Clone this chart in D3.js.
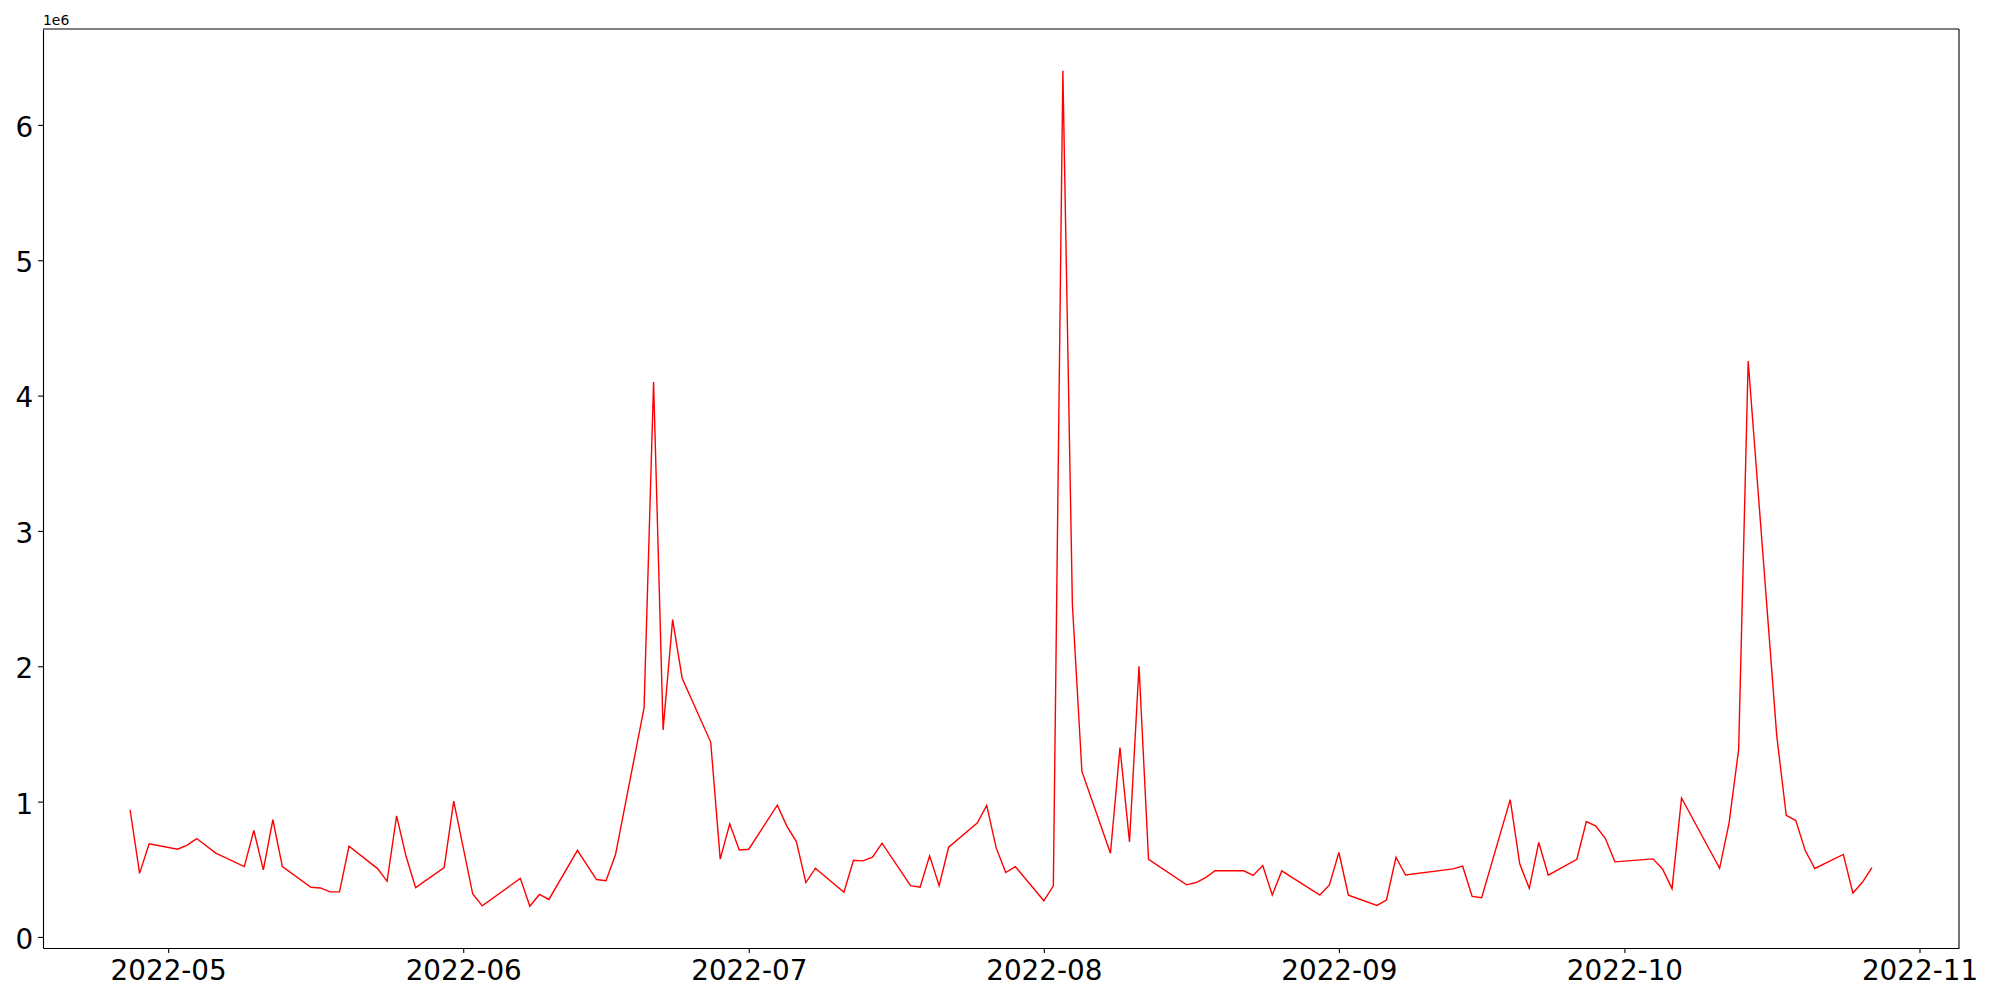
<!DOCTYPE html>
<html>
<head>
<meta charset="utf-8">
<script src="https://cdn.jsdelivr.net/npm/d3@7"></script>
<style>
  body { margin: 0; background: #fff; }
  svg { display: block; font-family: "DejaVu Sans", sans-serif; }
  .domain { stroke: #000; stroke-width: 1.1; }
  .tick line { stroke: #000; stroke-width: 1.1; }
  .tick text { fill: #000; font-size: 27.8px; font-family: "DejaVu Sans", sans-serif; }
</style>
</head>
<body>
<svg id="chart" width="2000" height="1000"></svg>
<script>

// trading days
var DATES = [
  '2022-04-27', '2022-04-28', '2022-04-29',
  '2022-05-02', '2022-05-03', '2022-05-04', '2022-05-06',
  '2022-05-09', '2022-05-10', '2022-05-11', '2022-05-12', '2022-05-13',
  '2022-05-16', '2022-05-17', '2022-05-18', '2022-05-19', '2022-05-20',
  '2022-05-23', '2022-05-24', '2022-05-25', '2022-05-26', '2022-05-27',
  '2022-05-30', '2022-05-31', '2022-06-02', '2022-06-03',
  '2022-06-07', '2022-06-08', '2022-06-09', '2022-06-10',
  '2022-06-13', '2022-06-15', '2022-06-16', '2022-06-17',
  '2022-06-20', '2022-06-21', '2022-06-22', '2022-06-23', '2022-06-24',
  '2022-06-27', '2022-06-28', '2022-06-29', '2022-06-30', '2022-07-01',
  '2022-07-04', '2022-07-05', '2022-07-06', '2022-07-07', '2022-07-08',
  '2022-07-11', '2022-07-12', '2022-07-13', '2022-07-14', '2022-07-15',
  '2022-07-18', '2022-07-19', '2022-07-20', '2022-07-21', '2022-07-22',
  '2022-07-25', '2022-07-26', '2022-07-27', '2022-07-28', '2022-07-29',
  '2022-08-01', '2022-08-02', '2022-08-03', '2022-08-04', '2022-08-05',
  '2022-08-08', '2022-08-09', '2022-08-10', '2022-08-11', '2022-08-12',
  '2022-08-16', '2022-08-17', '2022-08-18', '2022-08-19',
  '2022-08-22', '2022-08-23', '2022-08-24', '2022-08-25', '2022-08-26',
  '2022-08-30', '2022-08-31', '2022-09-01', '2022-09-02',
  '2022-09-05', '2022-09-06', '2022-09-07', '2022-09-08',
  '2022-09-13', '2022-09-14', '2022-09-15', '2022-09-16',
  '2022-09-19', '2022-09-20', '2022-09-21', '2022-09-22', '2022-09-23',
  '2022-09-26', '2022-09-27', '2022-09-28', '2022-09-29', '2022-09-30',
  '2022-10-04', '2022-10-05', '2022-10-06', '2022-10-07',
  '2022-10-11', '2022-10-12', '2022-10-13', '2022-10-14',
  '2022-10-17', '2022-10-18', '2022-10-19', '2022-10-20', '2022-10-21',
  '2022-10-24', '2022-10-25', '2022-10-26', '2022-10-27'
];

// values in units of 1e6
var VOLUMES = [
  0.94, 0.47, 0.688,
  0.648, 0.678, 0.727, 0.619,
  0.52, 0.787, 0.495, 0.866, 0.52,
  0.367, 0.362, 0.333, 0.333, 0.67,
  0.505, 0.411, 0.895, 0.594, 0.364,
  0.513, 1.004, 0.317, 0.23,
  0.433, 0.227, 0.314, 0.277,
  0.64, 0.424, 0.416, 0.609,
  1.693, 4.10, 1.53, 2.345, 1.912,
  1.44, 0.575, 0.836, 0.643, 0.648,
  0.974, 0.819, 0.705, 0.402, 0.508,
  0.33, 0.567, 0.562, 0.589, 0.693,
  0.379, 0.367, 0.599, 0.379, 0.663,
  0.841, 0.972, 0.656, 0.476, 0.52,
  0.267, 0.378, 6.40, 2.456, 1.223,
  0.618, 1.40, 0.703, 2.0, 0.574,
  0.385, 0.402, 0.438, 0.489,
  0.489, 0.455, 0.528, 0.31, 0.488,
  0.31, 0.384, 0.624, 0.308,
  0.233, 0.273, 0.589, 0.458,
  0.503, 0.523, 0.30, 0.29,
  1.015, 0.54, 0.359, 0.698, 0.457,
  0.574, 0.853, 0.819, 0.727, 0.555,
  0.577, 0.502, 0.357, 1.027,
  0.507, 0.845, 1.386, 4.256,
  1.488, 0.898, 0.86, 0.638, 0.506,
  0.61, 0.325, 0.404, 0.513
];

var Y_TICKS = [0, 1, 2, 3, 4, 5, 6];

var margin = { top: 29, right: 41, bottom: 52, left: 43 },
    width = 2000 - margin.left - margin.right,
    height = 1000 - margin.top - margin.bottom,

    parse = d3.utcParse('%Y-%m-%d'),

    data = DATES.map(function(d, i) {
      return { date: parse(d), value: VOLUMES[i] };
    }),

    // matplotlib-like 5% margins
    pad = function(ext) {
      var p = (ext[1] - ext[0]) * 0.05;
      return [ext[0] - p, ext[1] + p];
    },

    xExt = d3.extent(data, function(d) { return +d.date; }),
    yExt = d3.extent(data, function(d) { return d.value; }),

    x = d3.scaleUtc()
      .domain(pad(xExt).map(function(t) { return new Date(t); }))
      .range([0, width]),

    y = d3.scaleLinear()
      .domain(pad(yExt))
      .range([height, 0]),

    svg = d3.select('#chart'),

    g = svg.append('g')
      .attr('transform', 'translate(' + margin.left + ',' + margin.top + ')');

var line = d3.line()
  .x(function(d) { return x(d.date); })
  .y(function(d) { return y(d.value); });

g.append('path')
  .datum(data)
  .attr('fill', 'none')
  .attr('stroke', '#ff0000')
  .attr('stroke-width', 1.4)
  .attr('stroke-linejoin', 'miter')
  .attr('d', line);

var xAxis = g.append('g')
  .attr('transform', 'translate(0,' + height + ')')
  .call(d3.axisBottom(x)
    .ticks(d3.utcMonth.every(1))
    .tickFormat(d3.utcFormat('%Y-%m'))
    .tickSize(4.9)
    .tickPadding(4.9)
    .tickSizeOuter(0));

xAxis.selectAll('.tick text').attr('dy', '0.8em');

var yAxis = g.append('g')
  .call(d3.axisLeft(y)
    .tickValues(Y_TICKS)
    .tickFormat(d3.format('d'))
    .tickSize(4.9)
    .tickPadding(4.9)
    .tickSizeOuter(0));

yAxis.selectAll('.tick text').attr('dy', '0.41em');

// top and right spines
g.append('line')
  .attr('x1', 0).attr('x2', width)
  .attr('y1', 0).attr('y2', 0)
  .attr('stroke', '#000').attr('stroke-width', 1.1);

g.append('line')
  .attr('x1', width).attr('x2', width)
  .attr('y1', 0).attr('y2', height)
  .attr('stroke', '#000').attr('stroke-width', 1.1);

// offset text
g.append('text')
  .attr('x', 0)
  .attr('y', -4)
  .attr('font-size', '13.9px')
  .attr('fill', '#000')
  .text('1e6');

</script>
</body>
</html>
